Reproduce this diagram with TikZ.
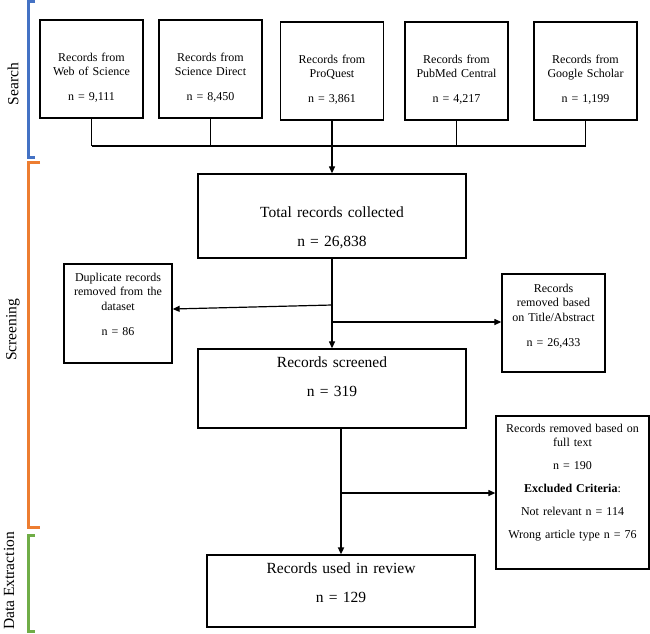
\documentclass[tikz,border=0pt]{standalone}
\usepackage{fontspec}
\setmainfont{Liberation Serif}
\usetikzlibrary{positioning,arrows.meta}

\begin{document}
\begin{tikzpicture}[
	x=1pt, y=-1pt,
	arr/.style={draw, line width=1.2pt, -{Triangle[length=7pt,width=6pt]}},
	src/.style={
		draw=black,
		line width=1.3pt,
		minimum width=103pt,
		minimum height=98pt,
		text width=100pt,
		inner sep=0pt,
		align=center,
		font=\fontsize{12}{14.5}\selectfont
	},
	stage/.style={
		draw=black,
		line width=1.3pt,
		minimum width=268pt,
		text width=260pt,
		inner sep=0pt,
		align=center,
		font=\fontsize{15.5}{18.5}\selectfont
	},
	push down/.style={execute at begin node={\rule{0pt}{#1}}},
	push up/.style={execute at end node={\rule[-#1]{0pt}{0pt}}},
	phase/.style={rotate=90, font=\fontsize{15.5}{18}\selectfont},
	bracket/.style={line width=3pt}
	]
	
	\useasboundingbox (0,0) rectangle (650,633);
	
	% search sources
	\node[src, push down=26pt] (wos) at (91.5,69)
	{Records from\\Web of Science\\[10.5pt]n = 9,111};
	\node[src, push down=26pt] (sd) at (210.5,69)
	{Records from\\Science Direct\\[10.5pt]n = 8,450};
	\node[src, push down=26pt] (pq) at (332,71)
	{Records from\\ProQuest\\[10.5pt]n = 3,861};
	\node[src, push down=26pt] (pmc) at (456.5,71)
	{Records from\\PubMed Central\\[10.5pt]n = 4,217};
	\node[src, push down=26pt] (gs) at (585.5,71)
	{Records from\\Google Scholar\\[10.5pt]n = 1,199};
	
	% main stages
	\node[stage, minimum height=84pt, push down=35pt] (total) at (332,216)
	{Total records collected\\[10.5pt]n = 26,838};
	\node[stage, minimum height=79pt, push up=23pt] (screened) at (332,388.5)
	{Records screened\\[10.5pt]n = 319};
	\node[stage, minimum height=72pt, push up=16pt] (used) at (341,591)
	{Records used in review\\[10.5pt]n = 129};
	
	% removed records
	\node[src, minimum width=108pt, minimum height=99pt, push up=19pt] (dup) at (118,313.5)
	{Duplicate records\\removed from the\\dataset\\[10.5pt]n = 86};
	\node[src, push up=16pt] (tiab) at (553.5,323)
	{Records\\removed based\\on Title/Abstract\\[10.5pt]n = 26,433};
	\node[src, minimum width=153pt, minimum height=153pt, text width=150pt,
	font=\fontsize{12}{14}\selectfont, push up=23pt] (full) at (572.5,492.5)
	{Records removed based on\\full text\\[9pt]n = 190\\[9pt]\textbf{Excluded Criteria}:\\[9pt]
		Not relevant n = 114\\[9pt]Wrong article type n = 76};
	
	% connectors
	\coordinate (bus) at (0,146);
	\coordinate (cut1) at (0,305);
	\coordinate (cut2) at (0,322);
	\coordinate (cut3) at (0,493);
	\foreach \s in {wos,sd,pq,pmc,gs}
	\draw[line width=1.2pt] (\s.south) -- (\s.south |- bus);
	\draw[line width=1.2pt] (wos.south |- bus) -- (gs.south |- bus);
	\draw[arr] (pq.south |- bus) -- (total.north);
	\draw[arr] (total.south) -- (screened.north);
	\draw[arr] (total.south |- cut1) -- ([yshift=4.5pt]dup.east);
	\draw[arr] (total.south |- cut2) -- (tiab.west |- cut2);
	\draw[arr, line width=1.9pt] (used.north |- screened.south) -- (used.north);
	\draw[arr] (used.north |- cut3) -- (full.west |- cut3);
	
	% phase brackets
	\draw[bracket, color={rgb,255:red,68;green,114;blue,196}]
	(35,1.5) -- (28,1.5) -- (28,157) -- (35,157);
	\draw[bracket, color={rgb,255:red,237;green,125;blue,49}]
	(40,162) -- (28,162) -- (28,527) -- (40,527);
	\draw[bracket, color={rgb,255:red,112;green,173;blue,71}]
	(35,535) -- (28,535) -- (28,631.5) -- (35,631.5);
	
	\node[phase] (search) at (13,84) {Search};
	\node[phase] (screening) at (13,330) {Screening};
	\node[phase] (extraction) at (9,581) {Data Extraction};
\end{tikzpicture}
\end{document}
